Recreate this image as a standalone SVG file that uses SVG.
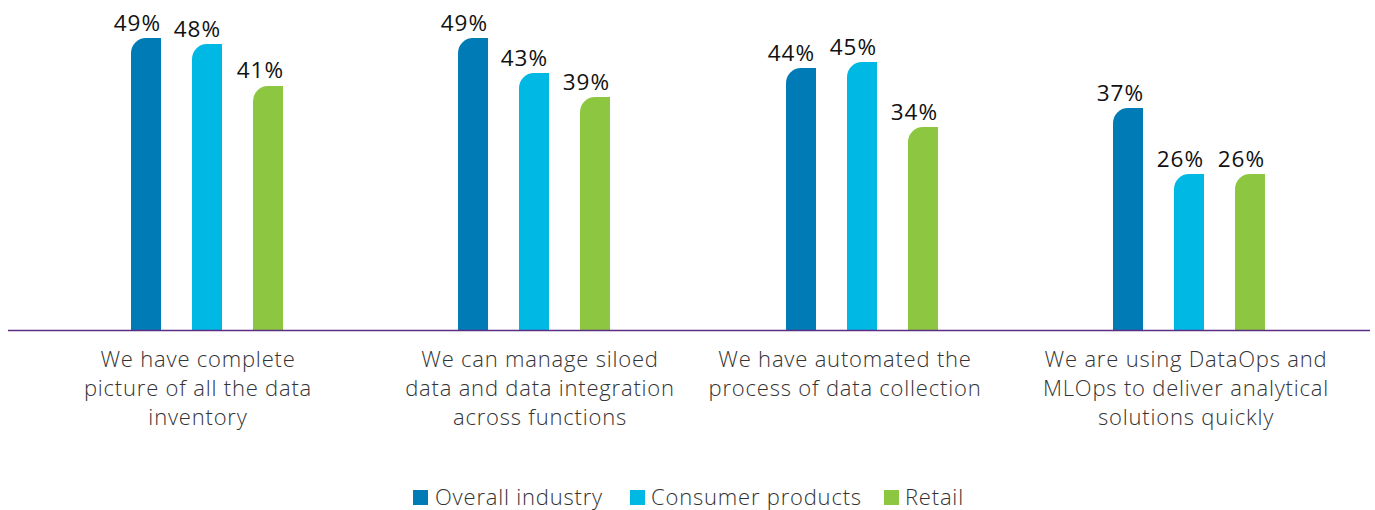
<svg xmlns="http://www.w3.org/2000/svg" width="1375" height="510" viewBox="0 0 1375 510">
<style>
.d{fill:#007bb6}.c{fill:#00b8e4}.g{fill:#8dc641}
.v{font-family:"Open Sans","Noto Sans",sans-serif;font-size:22.5px;letter-spacing:1px;fill:#111;text-anchor:end}
.t{font-family:"Open Sans","Noto Sans",sans-serif;font-size:22px;font-weight:300;letter-spacing:0.8px;fill:#333;text-anchor:middle}
.l{font-family:"Open Sans","Noto Sans",sans-serif;font-size:22px;font-weight:300;letter-spacing:0.8px;fill:#333}
</style>
<rect width="1375" height="510" fill="#fff"/>
<g id="bars">
<path class="d" d="M131,330V53A15,15 0 0 1 146,38H161V330Z"/>
<path class="c" d="M192,330V59A15,15 0 0 1 207,44H222V330Z"/>
<path class="g" d="M253,330V101A15,15 0 0 1 268,86H283V330Z"/>
<path class="d" d="M458,330V53A15,15 0 0 1 473,38H488V330Z"/>
<path class="c" d="M519,330V88A15,15 0 0 1 534,73H549V330Z"/>
<path class="g" d="M580,330V112A15,15 0 0 1 595,97H610V330Z"/>
<path class="d" d="M786,330V83A15,15 0 0 1 801,68H816V330Z"/>
<path class="c" d="M847,330V77A15,15 0 0 1 862,62H877V330Z"/>
<path class="g" d="M908,330V142A15,15 0 0 1 923,127H938V330Z"/>
<path class="d" d="M1113,330V123A15,15 0 0 1 1128,108H1143V330Z"/>
<path class="c" d="M1174,330V189A15,15 0 0 1 1189,174H1204V330Z"/>
<path class="g" d="M1235,330V189A15,15 0 0 1 1250,174H1265V330Z"/>
</g>
<g id="values">
<text class="v" x="161" y="31">49%</text>
<text class="v" x="221" y="37">48%</text>
<text class="v" x="284" y="78">41%</text>
<text class="v" x="488" y="31">49%</text>
<text class="v" x="548" y="66">43%</text>
<text class="v" x="610" y="90">39%</text>
<text class="v" x="815" y="61">44%</text>
<text class="v" x="877" y="55">45%</text>
<text class="v" x="938" y="120">34%</text>
<text class="v" x="1144" y="101">37%</text>
<text class="v" x="1204" y="167">26%</text>
<text class="v" x="1265" y="167">26%</text>
</g>
<line id="axis" x1="8" y1="330.5" x2="1370" y2="330.5" stroke="#5b2d83" stroke-width="1.5"/>
<g id="cat1"><text class="t" x="198" y="367">We have complete</text><text class="t" x="198" y="396">picture of all the data</text><text class="t" x="198" y="425">inventory</text></g>
<g id="cat2"><text class="t" x="540" y="367">We can manage siloed</text><text class="t" x="540" y="396">data and data integration</text><text class="t" x="540" y="425">across functions</text></g>
<g id="cat3"><text class="t" x="845" y="367">We have automated the</text><text class="t" x="845" y="396">process of data collection</text></g>
<g id="cat4"><text class="t" x="1186" y="367">We are using DataOps and</text><text class="t" x="1186" y="396">MLOps to deliver analytical</text><text class="t" x="1186" y="425">solutions quickly</text></g>
<g id="legend">
<rect class="d" x="413" y="490" width="15" height="15"/><text class="l" x="435" y="505">Overall industry</text>
<rect class="c" x="630" y="490" width="15" height="15"/><text class="l" x="651" y="505">Consumer products</text>
<rect class="g" x="884" y="490" width="15" height="15"/><text class="l" x="905" y="505">Retail</text>
</g>
</svg>
